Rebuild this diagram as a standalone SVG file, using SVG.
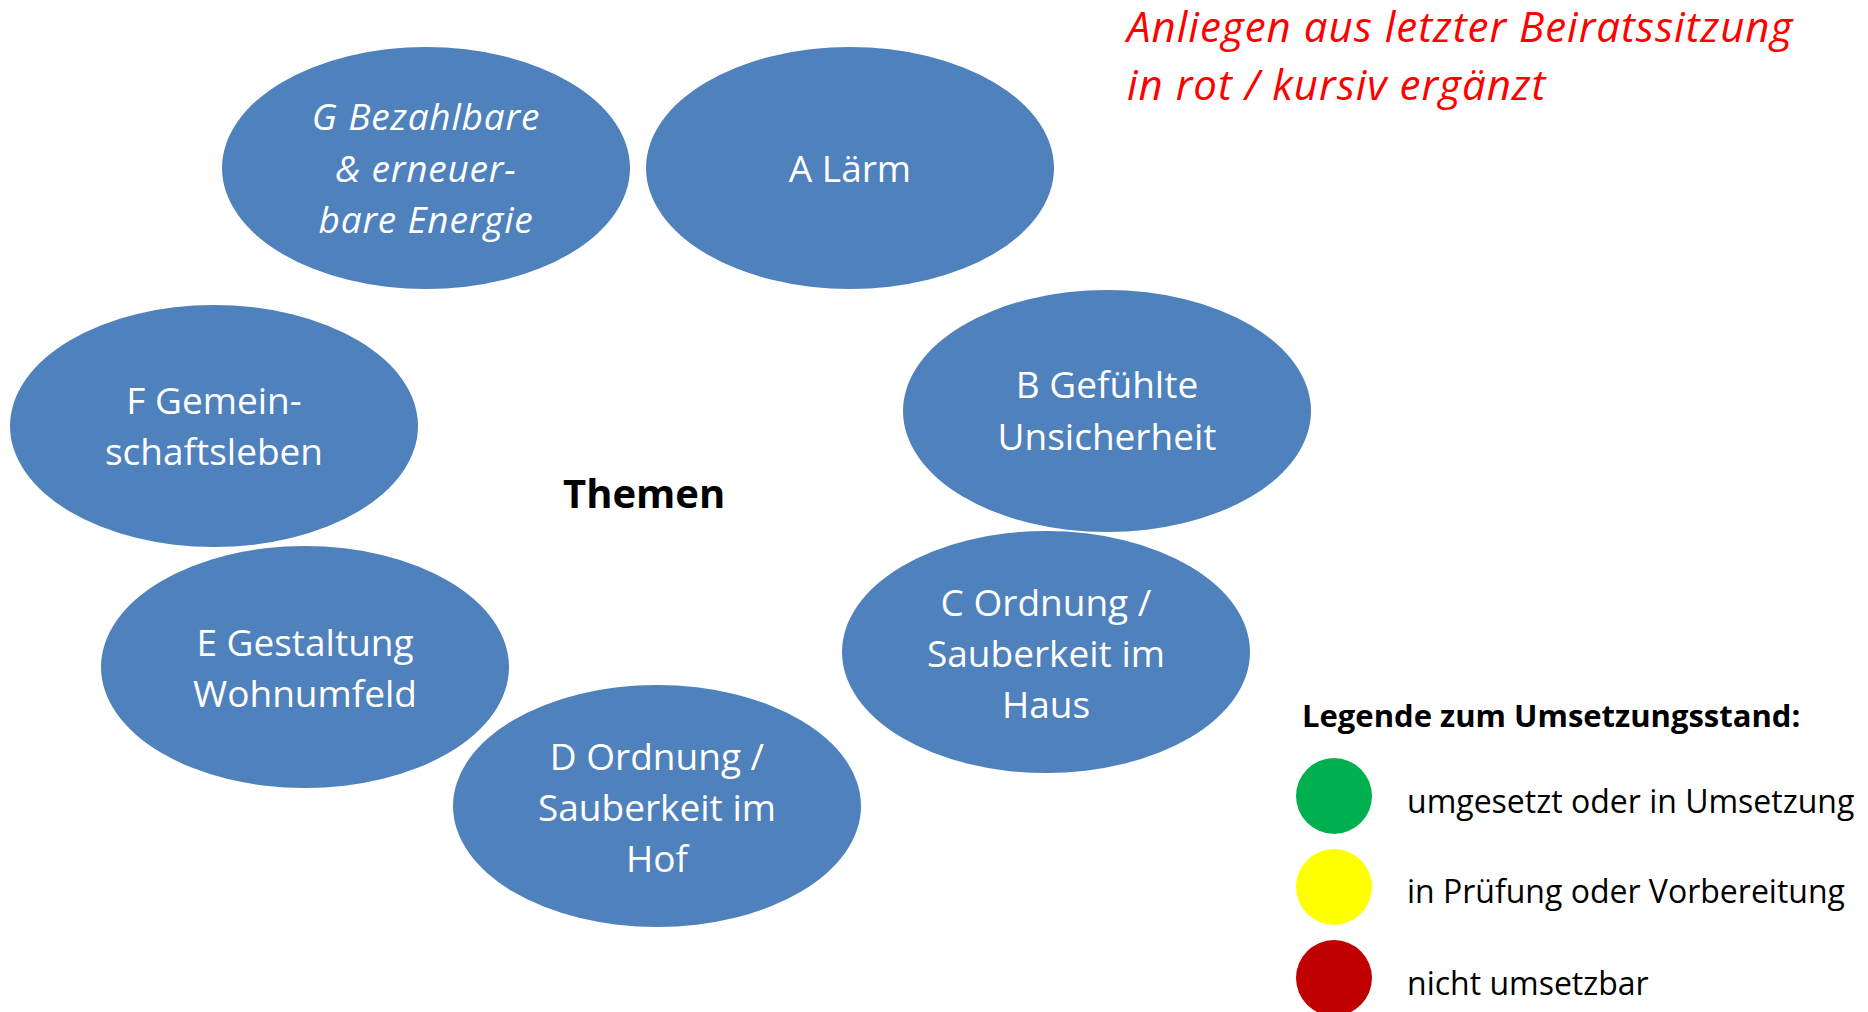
<svg xmlns="http://www.w3.org/2000/svg" width="1868" height="1012" viewBox="0 0 1868 1012">
<style>
.node ellipse{fill:#4F81BD}
.lbl{font-family:"Open Sans","Noto Sans","DejaVu Sans",sans-serif;font-size:37px;fill:#FFFFFF;text-anchor:middle}
.it{font-style:italic;letter-spacing:0.8px}
.title{font-family:"Open Sans","Noto Sans",sans-serif;font-weight:bold;font-size:40px;fill:#000}
.note{font-family:"Open Sans","Noto Sans",sans-serif;font-style:italic;font-size:42px;letter-spacing:1px;fill:#FF0000}
.lgt{font-family:"Open Sans","Noto Sans",sans-serif;font-weight:bold;font-size:31px;fill:#000}
.lg{font-family:"Open Sans","Noto Sans",sans-serif;font-size:32px;fill:#000}
</style>
<rect width="1868" height="1012" fill="#FFFFFF"/>
<g id="connectors"></g>
<g id="node-G" class="node">
<ellipse cx="426" cy="168" rx="204" ry="121"/>
<text class="lbl it"><tspan x="426" y="130">G Bezahlbare</tspan><tspan x="426" y="182">&amp; erneuer-</tspan><tspan x="426" y="233">bare Energie</tspan></text>
</g>
<g id="node-A" class="node">
<ellipse cx="850" cy="168" rx="204" ry="121"/>
<text class="lbl" x="850" y="182">A Lärm</text>
</g>
<g id="node-B" class="node">
<ellipse cx="1107" cy="411" rx="204" ry="121"/>
<text class="lbl"><tspan x="1107" y="398">B Gefühlte</tspan><tspan x="1107" y="450">Unsicherheit</tspan></text>
</g>
<g id="node-C" class="node">
<ellipse cx="1046" cy="652" rx="204" ry="121"/>
<text class="lbl"><tspan x="1046" y="616">C Ordnung /</tspan><tspan x="1046" y="667">Sauberkeit im</tspan><tspan x="1046" y="718">Haus</tspan></text>
</g>
<g id="node-D" class="node">
<ellipse cx="657" cy="806" rx="204" ry="121"/>
<text class="lbl"><tspan x="657" y="770">D Ordnung /</tspan><tspan x="657" y="821">Sauberkeit im</tspan><tspan x="657" y="872">Hof</tspan></text>
</g>
<g id="node-E" class="node">
<ellipse cx="305" cy="667" rx="204" ry="121"/>
<text class="lbl"><tspan x="305" y="656">E Gestaltung</tspan><tspan x="305" y="707">Wohnumfeld</tspan></text>
</g>
<g id="node-F" class="node">
<ellipse cx="214" cy="426" rx="204" ry="121"/>
<text class="lbl"><tspan x="214" y="414">F Gemein-</tspan><tspan x="214" y="465">schaftsleben</tspan></text>
</g>
<g id="center">
<text class="title" x="563" y="508">Themen</text>
</g>
<g id="note">
<text class="note"><tspan x="1127" y="42">Anliegen aus letzter Beiratssitzung</tspan><tspan x="1127" y="100">in rot / kursiv ergänzt</tspan></text>
</g>
<g id="legend">
<text class="lgt" x="1302" y="727">Legende zum Umsetzungsstand:</text>
<circle cx="1334" cy="796" r="38" fill="#00B050"/>
<circle cx="1334" cy="887" r="38" fill="#FFFF00"/>
<circle cx="1334" cy="978" r="38" fill="#C00000"/>
<text class="lg" x="1407" y="813">umgesetzt oder in Umsetzung</text>
<text class="lg" x="1407" y="903">in Prüfung oder Vorbereitung</text>
<text class="lg" x="1407" y="995">nicht umsetzbar</text>
</g>
</svg>
